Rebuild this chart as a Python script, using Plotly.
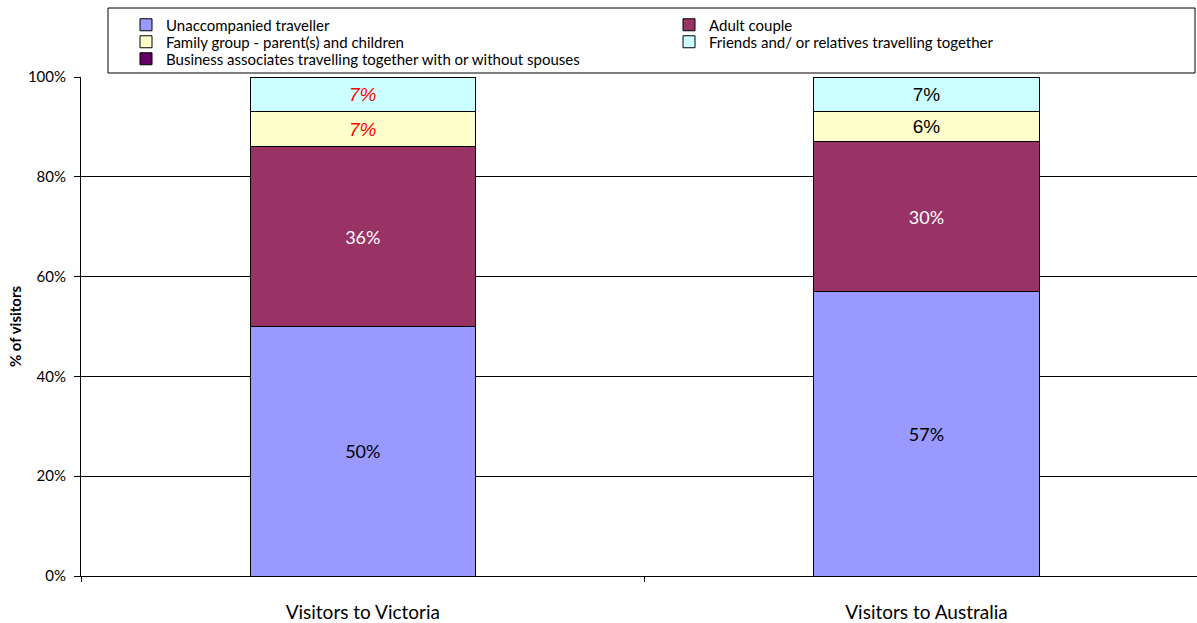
import plotly.graph_objects as go

# Visitor groups by destination (share of visitors, %)
categories = ["Visitors to Victoria", "Visitors to Australia"]
series_names = [
    "Unaccompanied traveller",
    "Adult couple",
    "Family group - parent(s) and children",
    "Friends and/ or relatives travelling together",
    "Business associates travelling together with or without spouses",
]
unaccompanied = [50, 57]
adult_couple = [36, 30]
family_group = [7, 6]
friends_relatives = [7, 7]
business = [0, 0]

series_values = [unaccompanied, adult_couple, family_group, friends_relatives, business]
colors = ["#9999FF", "#993366", "#FFFFCC", "#CCFFFF", "#660066"]
# Each entry gets its own legend so the key reads as a two-column grid
legend_ids = ["legend", "legend2", "legend3", "legend4", "legend5"]
legend_pos = [(126, 25), (669, 25), (126, 42), (669, 42), (126, 59)]  # pixel anchors

# Per-segment label styling
label_fonts = [
    dict(family="Lato, sans-serif", size=18, color=["black", "black"]),
    dict(family="Lato, sans-serif", size=18, color=["white", "white"]),
    dict(family="Liberation Sans, Arial", size=19, color=["red", "black"], style=["italic", "normal"]),
    dict(family="Liberation Sans, Arial", size=19, color=["red", "black"], style=["italic", "normal"]),
    dict(family="Lato, sans-serif", size=18, color=["black", "black"]),
]

fig = go.Figure()
for name, vals, col, lf, lg in zip(series_names, series_values, colors, label_fonts, legend_ids):
    fig.add_trace(go.Bar(
        name=name,
        x=categories,
        y=vals,
        width=0.4,
        marker=dict(color=col, line=dict(color="black", width=1)),
        text=[f"{v}%" if v > 0 else "" for v in vals],
        textposition="inside",
        insidetextanchor="middle",
        textangle=0,
        insidetextfont=lf,
        hoverinfo="skip",
        legend=lg,
    ))

plot_left, plot_top, plot_bottom, plot_w = 81, 77, 576, 1116
plot_h = plot_bottom - plot_top


def px_x(x):
    return (x - plot_left) / plot_w


def px_y(y):
    return (plot_bottom - y) / plot_h


legend_common = dict(
    orientation="v",
    xanchor="left",
    yanchor="middle",
    bgcolor="rgba(0,0,0,0)",
    borderwidth=0,
    font=dict(family="Lato, sans-serif", size=15, color="black"),
)
legends = {
    lid: dict(legend_common, x=px_x(lx), y=px_y(ly))
    for lid, (lx, ly) in zip(legend_ids, legend_pos)
}

fig.update_layout(
    barmode="stack",
    width=1197,
    height=623,
    margin=dict(l=plot_left, r=1197 - plot_left - plot_w, t=plot_top, b=623 - plot_bottom),
    paper_bgcolor="white",
    plot_bgcolor="white",
    font=dict(family="Lato, Open Sans, sans-serif", size=15, color="black"),
    showlegend=True,
    shapes=[dict(
        type="rect", xref="paper", yref="paper",
        x0=px_x(108), x1=px_x(1195), y0=px_y(73), y1=px_y(8),
        line=dict(color="black", width=1), fillcolor="white", layer="above",
    )],
    **legends,
)

fig.update_xaxes(
    range=[-0.5, 1.48],
    showline=True, linecolor="black", linewidth=1,
    ticks="outside", tickson="boundaries", ticklen=5, tickcolor="black",
    tickfont=dict(family="Lato, sans-serif", size=19, color="black"),
    ticklabelstandoff=19,
    showgrid=False,
)
fig.update_yaxes(
    range=[0, 100],
    tickvals=[0, 20, 40, 60, 80, 100],
    ticktext=["0%", "20%", "40%", "60%", "80%", "100%"],
    showline=True, linecolor="black", linewidth=1,
    ticks="outside", ticklen=6, tickcolor="black",
    ticklabelstandoff=5,
    showgrid=True, gridcolor="black", gridwidth=1,
    tickfont=dict(family="Lato, sans-serif", size=15, color="black"),
    title=dict(text="<b>% of visitors</b>", font=dict(family="Lato, sans-serif", size=15), standoff=2),
    zeroline=False,
)

fig.write_html("out.html")
